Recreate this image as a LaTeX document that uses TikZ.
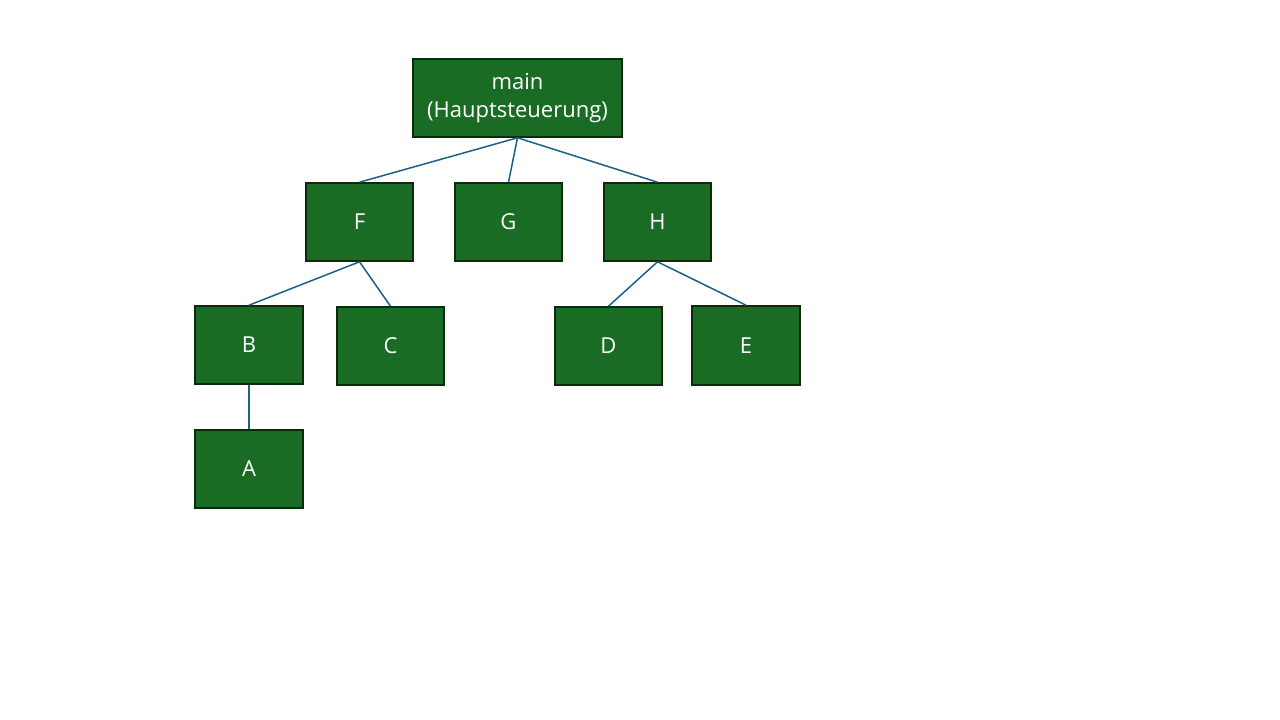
\documentclass[tikz,border=0pt]{standalone}
\usepackage{fontspec}
\setmainfont{Open Sans}
\begin{document}
\begin{tikzpicture}[x=1pt,y=-1pt,
  box/.style={draw=boxline,fill=boxfill,line width=1.6pt,text=white,minimum width=107pt,minimum height=78pt,inner sep=0pt,align=center,font=\fontsize{22}{28}\selectfont},
  link/.style={draw=linkcol,line width=1.5pt}]
\definecolor{boxfill}{HTML}{1A6B24}
\definecolor{boxline}{HTML}{0B2A0E}
\definecolor{linkcol}{HTML}{1D5F85}
\useasboundingbox (0,0) rectangle (1280,720);
\node[box,minimum width=209pt] (main) at (517.5,98) {main\\(Hauptsteuerung)};
\node[box] (F) at (359.5,222) {F};
\node[box] (G) at (508.5,222) {G};
\node[box] (H) at (657.5,222) {H};
\node[box,minimum width=108pt] (B) at (249,345) {B};
\node[box] (C) at (390.5,346) {C};
\node[box] (D) at (608.5,346) {D};
\node[box,minimum width=108pt,minimum height=79pt] (E) at (746,345.5) {E};
\node[box,minimum width=108pt] (A) at (249,469) {A};
\draw[link] (main.south) -- (F.north);
\draw[link] (main.south) -- (G.north);
\draw[link] (main.south) -- (H.north);
\draw[link] (F.south) -- (B.north);
\draw[link] (F.south) -- (C.north);
\draw[link] (H.south) -- (D.north);
\draw[link] (H.south) -- (E.north);
\draw[link] (B.south) -- (A.north);
\end{tikzpicture}
\end{document}
